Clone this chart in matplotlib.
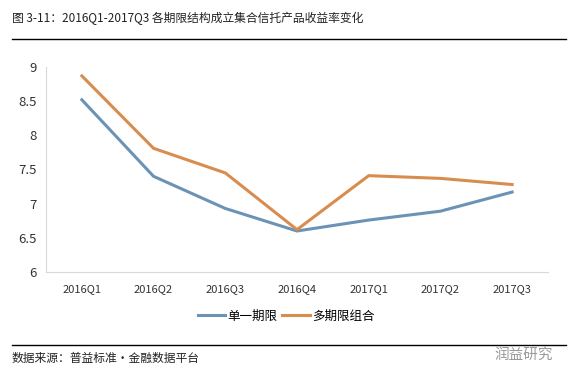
import matplotlib
matplotlib.use("Agg")
import matplotlib.pyplot as plt
from matplotlib.lines import Line2D

plt.rcParams['font.family'] = ['Noto Sans CJK SC', 'DejaVu Sans']

quarters = ['2016Q1', '2016Q2', '2016Q3', '2016Q4', '2017Q1', '2017Q2', '2017Q3']
single_term = [8.52, 7.40, 6.93, 6.60, 6.76, 6.89, 7.17]
multi_term = [8.87, 7.81, 7.45, 6.62, 7.41, 7.37, 7.28]
yticks = [6, 6.5, 7, 7.5, 8, 8.5, 9]
ytick_labels = ['6', '6.5', '7', '7.5', '8', '8.5', '9']

blue = '#6B93B6'
orange = '#D88D4E'

fig = plt.figure(figsize=(5.72, 3.74), dpi=100)
W, H = 572, 374

# plot area in pixel coords
left, right, top, bottom = 46, 548, 67, 272
ax = fig.add_axes([left / W, 1 - bottom / H, (right - left) / W, (bottom - top) / H])

x = range(len(quarters))
ax.plot(x, single_term, color=blue, lw=2.2, solid_joinstyle='round')
ax.plot(x, multi_term, color=orange, lw=2.2, solid_joinstyle='round')

ax.set_xlim(-0.5, len(quarters) - 0.5)
ax.set_ylim(6, 9)
ax.set_yticks(yticks)
ax.set_yticklabels(ytick_labels)
ax.set_xticks(list(x))
ax.set_xticklabels(quarters)
ax.tick_params(axis='both', length=0, colors='#333333')
ax.tick_params(axis='x', pad=9, labelsize=8)
ax.tick_params(axis='y', pad=7, labelsize=9.5)

for s in ['top', 'right']:
    ax.spines[s].set_visible(False)
ax.spines['left'].set_color('#d9d9d9')
ax.spines['bottom'].set_color('#d9d9d9')

# legend
handles = [Line2D([], [], color=blue, lw=2.2), Line2D([], [], color=orange, lw=2.2)]
fig.legend(handles, ['单一期限', '多期限组合'], loc='center', ncol=2,
           bbox_to_anchor=(286 / W, 1 - 316 / H), frameon=False, fontsize=9,
           handlelength=2.2, handletextpad=0.15, columnspacing=0.4)

# title and rules
fig.text(12 / W, 1 - 18 / H, '图 3-11：2016Q1-2017Q3 各期限结构成立集合信托产品收益率变化',
         fontsize=8.5, va='center', ha='left', color='#222222')
fig.add_artist(Line2D([12 / W, 566 / W], [1 - 39 / H, 1 - 39 / H], color='black', lw=1))
fig.add_artist(Line2D([12 / W, 566 / W], [1 - 345 / H, 1 - 345 / H], color='black', lw=1))

fig.text(12 / W, 1 - 358 / H, '数据来源：普益标准·金融数据平台', fontsize=8.5,
         style='italic', va='center', ha='left', color='#222222')
fig.text(553 / W, 1 - 355 / H, '润益研究', fontsize=10.5, va='center', ha='right',
         color='#9a9a9a')

fig.savefig('out.png', dpi=100, facecolor='white')
